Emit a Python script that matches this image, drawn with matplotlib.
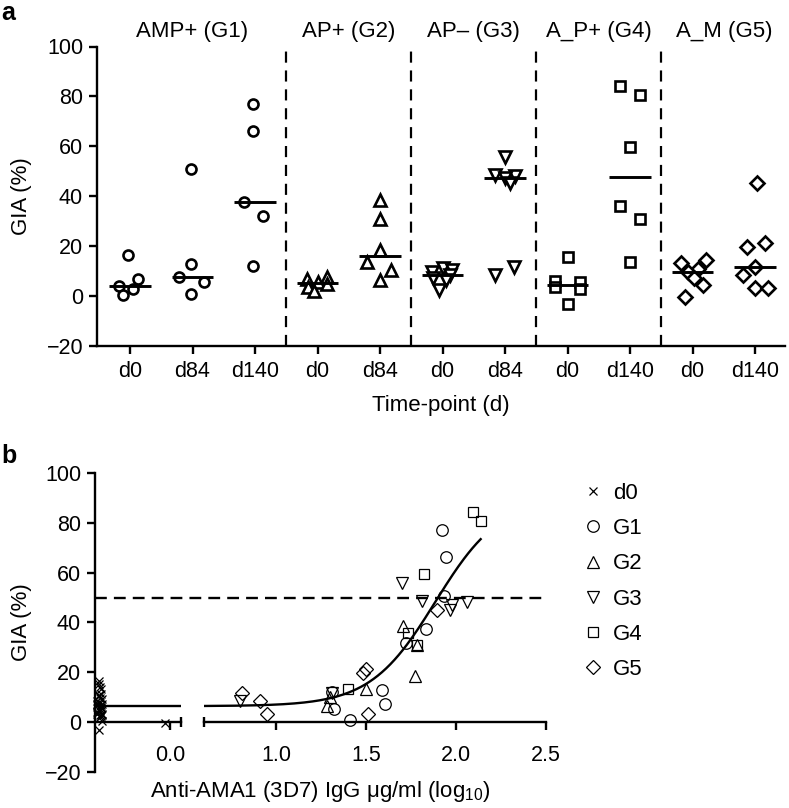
import numpy as np
import matplotlib
matplotlib.use("Agg")
import matplotlib.pyplot as plt
from matplotlib.lines import Line2D
from matplotlib.transforms import blended_transform_factory

plt.rcParams['font.family'] = ['Liberation Sans', 'DejaVu Sans']
plt.rcParams['mathtext.fontset'] = 'custom'
plt.rcParams['mathtext.rm'] = 'Liberation Sans'
plt.rcParams['mathtext.it'] = 'Liberation Sans:italic'

# ---------------- panel a data (GIA %) ----------------
categories = ["d0", "d84", "d140", "d0", "d84", "d0", "d84", "d0", "d140", "d0", "d140"]
group_titles = ["AMP+ (G1)", "AP+ (G2)", "AP\u2013 (G3)", "A_P+ (G4)", "A_M (G5)"]

g1_d0 = [16.5, 6.8, 4.2, 2.8, 0.5]
g1_d84 = [50.8, 12.8, 7.5, 5.5, 0.8]
g1_d140 = [76.9, 66.1, 37.5, 31.9, 12.1]
g2_d0 = [7.8, 6.8, 5.6, 5.0, 3.5, 2.2]
g2_d84 = [38.5, 30.8, 18.5, 13.5, 10.3, 6.5]
g3_d0 = [11.2, 10.5, 9.8, 8.5, 7.2, 6.5, 2.5]
g3_d84 = [55.9, 48.5, 48.3, 47.2, 45.2, 11.8, 8.5]
g4_d0 = [15.5, 6.0, 5.5, 3.5, 3.0, -3.0]
g4_d140 = [84.1, 80.5, 59.6, 35.9, 30.8, 13.5]
g5_d0 = [14.3, 13.2, 11.0, 9.5, 7.2, 4.5, -0.2]
g5_d140 = [45.2, 21.2, 19.8, 11.8, 8.5, 3.2, 3.2]

# horizontal scatter offsets (category units)
g1_d0_off = [-0.04, 0.12, -0.18, 0.05, -0.12]
g1_d84_off = [-0.03, -0.03, -0.21, 0.18, -0.03]
g1_d140_off = [-0.03, -0.03, -0.18, 0.12, -0.03]
g2_d0_off = [0.15, -0.17, 0.0, 0.15, -0.15, -0.05]
g2_d84_off = [0.0, 0.0, 0.0, -0.21, 0.18, 0.0]
g3_d0_off = [0.0, 0.15, -0.17, 0.12, -0.15, 0.05, -0.05]
g3_d84_off = [0.0, -0.16, 0.16, 0.0, 0.08, 0.15, -0.16]
g4_d0_off = [0.0, -0.2, 0.2, -0.2, 0.2, 0.0]
g4_d140_off = [-0.16, 0.16, 0.0, -0.16, 0.16, 0.0]
g5_d0_off = [0.21, -0.18, 0.09, -0.07, 0.03, 0.16, -0.12]
g5_d140_off = [0.03, 0.16, -0.13, 0.0, -0.19, 0.0, 0.21]

# ---------------- panel b data (log10 anti-AMA1 IgG) ----------------
g1_d84_igg = [1.935, 1.587, 1.606, 1.324, 1.411]
g1_d140_igg = [1.92, 1.944, 1.831, 1.722, 1.309]
g2_d84_igg = [1.707, 1.782, 1.772, 1.50, 1.30, 1.282]
g3_d84_igg = [1.698, 1.809, 2.059, 1.976, 1.967, 1.31, 0.80]
g4_d140_igg = [2.093, 2.137, 1.822, 1.735, 1.782, 1.398]
g5_d140_igg = [1.893, 1.50, 1.485, 0.81, 0.911, 0.948, 1.509]
d0_igg = [-0.57, -0.55, -0.58, -0.56, -0.54,
          -0.56, -0.58, -0.55, -0.57, -0.54, -0.56,
          -0.55, -0.57, -0.56, -0.58, -0.54, -0.56, -0.55,
          -0.57, -0.55, -0.56, -0.58, -0.54, -0.57,
          -0.56, -0.55, -0.57, -0.54, -0.58, -0.56, -0.04]
d0_gia = g1_d0 + g2_d0 + g3_d0 + g4_d0 + g5_d0

# 4-parameter logistic fit
fit_bottom, fit_top, fit_logec50, fit_hill = 6.5, 90.0, 1.885, 2.4
fit_xmax = 2.137
threshold = 50

W, H = 789, 808
fig = plt.figure(figsize=(W / 100, H / 100), dpi=100)


def fx(px):
    return px / W


def fy(py):
    return 1 - py / H


LW = 1.7
FS_TICK = 15.5
FS = 16

# ================= panel a =================
axa = fig.add_axes([fx(97), fy(346), fx(785) - fx(97), fy(46.5) - fy(346)])
series_a = [
    (0, g1_d0, g1_d0_off, 'o', 7.2), (1, g1_d84, g1_d84_off, 'o', 7.2), (2, g1_d140, g1_d140_off, 'o', 7.2),
    (3, g2_d0, g2_d0_off, '^', 8.0), (4, g2_d84, g2_d84_off, '^', 8.0),
    (5, g3_d0, g3_d0_off, 'v', 8.0), (6, g3_d84, g3_d84_off, 'v', 8.0),
    (7, g4_d0, g4_d0_off, 's', 7.4), (8, g4_d140, g4_d140_off, 's', 7.4),
    (9, g5_d0, g5_d0_off, 'D', 6.8), (10, g5_d140, g5_d140_off, 'D', 6.8),
]
for pos, vals, offs, mk, ms in series_a:
    xs = pos + np.array(offs)
    axa.plot(xs, vals, linestyle='none', marker=mk, ms=ms, mfc='white', mec='black', mew=1.9, zorder=3)
    med = np.median(vals)
    axa.plot([pos - 0.33, pos + 0.33], [med, med], color='black', lw=2.1, zorder=4, solid_capstyle='butt')

for xb in [2.5, 4.5, 6.5, 8.5]:
    axa.plot([xb, xb], [-20, 98.5], color='black', lw=1.6, dashes=(5, 3.5), zorder=2)

title_pos = [1, 3.5, 5.5, 7.5, 9.5]
ttr = blended_transform_factory(axa.transData, fig.transFigure)
for tp, tt in zip(title_pos, group_titles):
    axa.text(tp, fy(37), tt, transform=ttr, ha='center', va='baseline', fontsize=FS, clip_on=False)

axa.set_xlim(-0.528, 10.48)
axa.set_ylim(-20, 100)
axa.set_yticks([-20, 0, 20, 40, 60, 80, 100])
axa.set_xticks(range(len(categories)))
axa.set_xticklabels(categories)
for s in ['top', 'right']:
    axa.spines[s].set_visible(False)
for s in ['left', 'bottom']:
    axa.spines[s].set_linewidth(LW)
axa.tick_params(axis='both', length=6, width=LW, labelsize=FS_TICK, direction='out')
axa.tick_params(axis='y', pad=4)
axa.tick_params(axis='x', pad=5)

fig.text(fx(21), fy(196), 'GIA (%)', rotation=90, ha='center', va='center', fontsize=FS)
fig.text(fx(441), fy(406), 'Time-point (d)', ha='center', va='center', fontsize=FS)

fig.text(fx(1), fy(20), 'a', fontsize=18, fontweight='bold', ha='left', va='baseline')
fig.text(fx(1), fy(463), 'b', fontsize=18, fontweight='bold', ha='left', va='baseline')

# ================= panel b =================
b_bottom, b_top = fy(772.3), fy(472.7)
axl = fig.add_axes([fx(95), b_bottom, fx(181) - fx(95), b_top - b_bottom])
axr = fig.add_axes([fx(204), b_bottom, fx(546) - fx(204), b_top - b_bottom])

for ax in (axl, axr):
    ax.set_ylim(-20, 100)
    ax.patch.set_visible(False)
    for s in ['top', 'right']:
        ax.spines[s].set_visible(False)
    ax.spines['bottom'].set_position(('data', 0))
    ax.spines['bottom'].set_linewidth(LW)
    ax.tick_params(axis='x', length=5.5, width=LW, labelsize=FS_TICK, direction='out', pad=10.5)

axl.set_xlim(-0.6, 0.09)
axr.set_xlim(0.6, 2.5)
axl.spines['left'].set_linewidth(LW)
axl.set_yticks([-20, 0, 20, 40, 60, 80, 100])
axl.tick_params(axis='y', length=6, width=LW, labelsize=FS_TICK, direction='out', pad=4)
axl.set_xticks([0.0])
axl.set_xticklabels(['0.0'])
axl.set_xticks([0.09], minor=True)
axl.tick_params(axis='x', which='minor', direction='inout', length=7.5, width=LW)

axr.spines['left'].set_visible(False)
axr.set_yticks([])
axr.set_xticks([1.0, 1.5, 2.0, 2.5])
axr.set_xticklabels(['1.0', '1.5', '2.0', '2.5'])
axr.set_xticks([0.6], minor=True)
axr.tick_params(axis='x', which='minor', direction='inout', length=7.5, width=LW)

fig.text(fx(21), fy(622), 'GIA (%)', rotation=90, ha='center', va='center', fontsize=FS)

# fit curve
axl.plot([-0.6, 0.09], [fit_bottom, fit_bottom], color='black', lw=LW, zorder=2)
xf = np.linspace(0.6, fit_xmax, 200)
yf = fit_bottom + (fit_top - fit_bottom) / (1 + 10 ** ((fit_logec50 - xf) * fit_hill))
axr.plot(xf, yf, color='black', lw=LW, zorder=2)

# threshold dashed line across both segments
tr = blended_transform_factory(fig.transFigure, axr.transData)
axr.plot([fx(95), fx(547)], [threshold, threshold], transform=tr, color='black', lw=LW,
         dashes=(5, 3), clip_on=False, zorder=1)

mkw = dict(linestyle='none', mfc='none', mec='black', mew=0.9, zorder=3, clip_on=False)
axl.plot(d0_igg, d0_gia, marker='x', ms=5.5, **mkw)
axr.plot(g1_d84_igg + g1_d140_igg, g1_d84 + g1_d140, marker='o', ms=8.3, **mkw)
axr.plot(g2_d84_igg, g2_d84, marker='^', ms=9, **mkw)
axr.plot(g3_d84_igg, g3_d84, marker='v', ms=9, **mkw)
axr.plot(g4_d140_igg, g4_d140, marker='s', ms=7.8, **mkw)
axr.plot(g5_d140_igg, g5_d140, marker='D', ms=6.8, **mkw)

fig.text(fx(320), fy(797), 'Anti-AMA1 (3D7) IgG \u03bcg/ml (log$_{10}$)',
         ha='center', va='baseline', fontsize=FS)

# legend
leg_labels = ['d0', 'G1', 'G2', 'G3', 'G4', 'G5']
leg_markers = [('x', 5.5), ('o', 8.3), ('^', 9), ('v', 9), ('s', 7.8), ('D', 6.8)]
handles = [Line2D([], [], linestyle='none', marker=m, ms=s, mfc='none', mec='black', mew=0.9)
           for m, s in leg_markers]
fig.legend(handles, leg_labels, loc='upper left', bbox_to_anchor=(fx(582), fy(483)),
           frameon=False, fontsize=FS, handlelength=1.0, handletextpad=0.4,
           labelspacing=0.64, borderpad=0, borderaxespad=0)

fig.savefig('out.png', dpi=100)
